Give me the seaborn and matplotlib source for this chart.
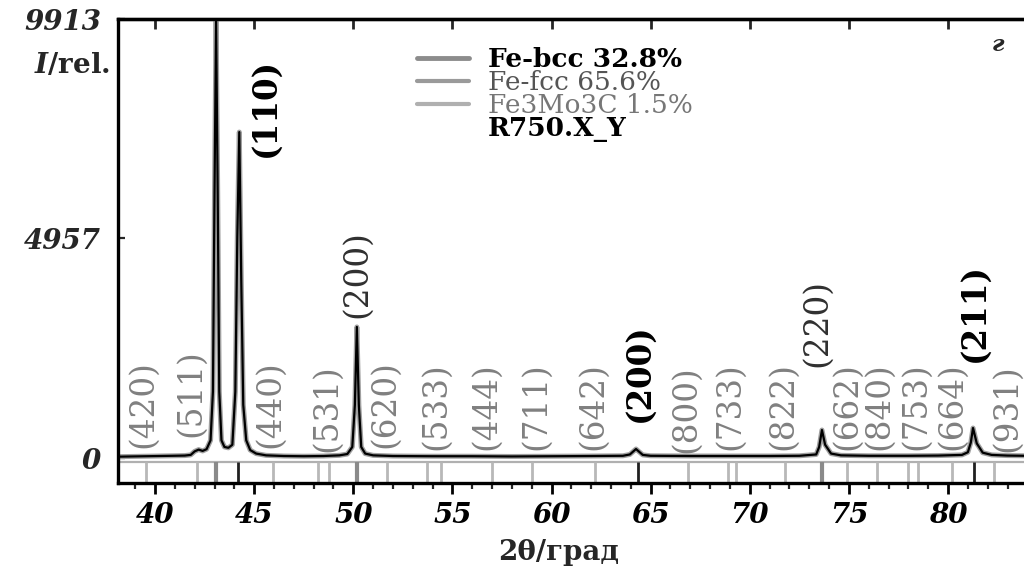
import matplotlib
matplotlib.use("Agg")
import matplotlib.pyplot as plt
from matplotlib.lines import Line2D
import numpy as np
import pandas as pd
import seaborn as sns

# ---------------- data ----------------
two_theta = [38.13, 38.8, 39.5, 40.2, 40.9, 41.5, 41.8, 42.0, 42.2, 42.4, 42.6, 42.8,
             42.92, 43.0, 43.08, 43.16, 43.24, 43.35, 43.5, 43.7, 43.9, 44.05, 44.15,
             44.25, 44.35, 44.45, 44.6, 44.8, 45.1, 45.6, 46.5, 47.5, 48.5, 49.3, 49.7,
             49.95, 50.08, 50.18, 50.28, 50.4, 50.6, 51.0, 52.0, 54.0, 56.0, 58.0, 60.0,
             62.0, 63.6, 63.95, 64.26, 64.6, 65.0, 67.0, 69.0, 71.0, 72.5, 73.35, 73.5,
             73.64, 73.8, 74.1, 74.6, 76.0, 78.0, 79.5, 80.7, 81.0, 81.15, 81.26, 81.45,
             81.75, 82.2, 83.0, 83.93]
intensity = [30, 35, 40, 45, 50, 55, 70, 150, 190, 160, 200, 400,
             1500, 6000, 9913, 6000, 1500, 400, 250, 230, 300, 1500, 5000,
             7360, 4000, 1200, 400, 180, 100, 60, 45, 40, 45, 60, 90,
             250, 1200, 2960, 1200, 250, 100, 60, 45, 40, 40, 35, 40,
             45, 50, 80, 203, 70, 50, 45, 45, 45, 50, 80, 250,
             632, 300, 100, 60, 50, 50, 55, 70, 130, 350, 677, 330,
             120, 70, 55, 50]

# reflection positions of the phases (reference ticks)
bcc_pos = [44.2, 64.35, 81.3]
fcc_pos = [43.08, 50.2, 73.65]
mo_pos = [39.55, 42.1, 45.96, 48.2, 48.8, 51.7, 53.7, 54.4, 57.0, 59.0, 62.2,
          66.9, 68.9, 69.3, 71.8, 74.9, 76.4, 78.0, 78.5, 80.2, 82.3]

# hkl annotations
label_text = ['(420)', '(511)', '(110)', '(440)', '(531)', '(200)', '(620)', '(533)',
              '(444)', '(711)', '(642)', '(200)', '(800)', '(733)', '(822)', '(220)',
              '(662)', '(840)', '(753)', '(664)', '(211)', '(931)']
label_x = [39.4, 41.8, 45.55, 45.8, 48.7, 50.2, 51.6, 54.2, 56.7, 59.2, 62.1, 64.4,
           66.8, 69.0, 71.7, 73.4, 74.9, 76.5, 78.4, 80.2, 81.3, 83.0]
label_y = [226, 474, 6797, 226, 135, 3161, 226, 180, 180, 180, 180, 813,
           113, 180, 180, 2055, 180, 180, 180, 180, 2168, 135]
label_phase = ['mo', 'mo', 'bcc', 'mo', 'mo', 'fcc', 'mo', 'mo', 'mo', 'mo', 'mo', 'bcc',
               'mo', 'mo', 'mo', 'fcc', 'mo', 'mo', 'mo', 'mo', 'bcc', 'mo']

legend_labels = ['Fe-bcc 32.8%', 'Fe-fcc 65.6%', 'Fe3Mo3C 1.5%', 'R750.X_Y']
x_ticks = [40, 45, 50, 55, 60, 65, 70, 75, 80]
y_ticks = [0, 4957, 9913]

# ---------------- style ----------------
sns.set_theme(style="white")
plt.rcParams['font.family'] = ['DejaVu Serif', 'DejaVu Sans']
plt.rcParams['mathtext.fontset'] = 'dejavuserif'

phase_color = {'bcc': '#000000', 'fcc': '#303030', 'mo': '#808080'}
phase_weight = {'bcc': 'bold', 'fcc': 'normal', 'mo': 'normal'}

fig = plt.figure(figsize=(10.24, 5.68), dpi=100)
ax = fig.add_axes([0.1152, 0.1496, 0.8867, 0.8169])

df = pd.DataFrame({'two_theta': two_theta, 'intensity': intensity})
sns.lineplot(data=df, x='two_theta', y='intensity', ax=ax, color='#a0a0a0',
             lw=3.6, estimator=None, sort=False)
sns.lineplot(data=df, x='two_theta', y='intensity', ax=ax, color='black',
             lw=1.6, estimator=None, sort=False)

# reference tick strip
ax.axhline(-90, color='#b0b0b0', lw=1.6, zorder=1)
ax.vlines(mo_pos, -540, -95, color='#b8b8b8', lw=2.0)
ax.vlines(fcc_pos, -540, -95, color='#8a8a8a', lw=3.0)
ax.vlines(bcc_pos, -540, -95, color='#202020', lw=2.0)

for t, x, y, ph in zip(label_text, label_x, label_y, label_phase):
    ax.text(x, y, t, rotation=90, ha='center', va='bottom', fontsize=23.5,
            color=phase_color[ph], fontweight=phase_weight[ph])

ax.set_xlim(38.13, 83.93)
ax.set_ylim(-565, 9913)

ax.set_xticks(x_ticks)
ax.set_xticklabels([str(v) for v in x_ticks], fontsize=20, fontweight='bold',
                   fontstyle='italic')
ax.set_xticks(np.arange(39, 84, 1), minor=True)
ax.set_yticks(y_ticks)
ax.set_yticklabels([str(v) for v in y_ticks], fontsize=20, fontweight='bold',
                   fontstyle='italic')
ax.tick_params(axis='x', which='major', direction='out', length=8, width=2,
               bottom=True, pad=6, colors='black')
ax.tick_params(axis='x', which='minor', direction='out', length=4, width=1.6,
               bottom=True)
ax.tick_params(axis='y', which='major', direction='in', length=5, width=1.6,
               left=True, pad=12)

top = ax.secondary_xaxis('top')
top.set_xticks(x_ticks)
top.tick_params(direction='in', length=7, width=2, labeltop=False)
top.spines['top'].set_linewidth(2.4)

for s in ['left', 'bottom', 'top']:
    ax.spines[s].set_linewidth(2.4)
    ax.spines[s].set_color('black')
ax.spines['right'].set_visible(False)

ax.set_xlabel('2θ/град', fontsize=20, fontweight='bold')
ax.xaxis.set_label_coords(0.485, -0.12)
ax.set_ylabel('')
ax.text(-0.009, 0.899, r'$\mathbfit{I}$/rel.', transform=ax.transAxes, ha='right',
        va='center', fontsize=20, fontweight='bold')
ax.text(0.969, 0.944, 'г', transform=ax.transAxes, ha='center', va='center',
        fontsize=16, fontstyle='italic', fontweight='bold')

handles = [Line2D([0], [0], color='#8c8c8c', lw=3.5),
           Line2D([0], [0], color='#9a9a9a', lw=3.0),
           Line2D([0], [0], color='#b0b0b0', lw=3.0),
           Line2D([0], [0], color='none')]
leg = ax.legend(handles, legend_labels, loc='upper left',
                bbox_to_anchor=(0.329, 0.94), frameon=False, fontsize=19,
                handlelength=2.0, handletextpad=0.7, labelspacing=-0.07,
                borderpad=0, borderaxespad=0)
txt_colors = ['black', '#555555', '#777777', 'black']
txt_weights = ['bold', 'normal', 'normal', 'bold']
for t, c, w in zip(leg.get_texts(), txt_colors, txt_weights):
    t.set_color(c)
    t.set_fontweight(w)

fig.savefig('out.png', dpi=100)
